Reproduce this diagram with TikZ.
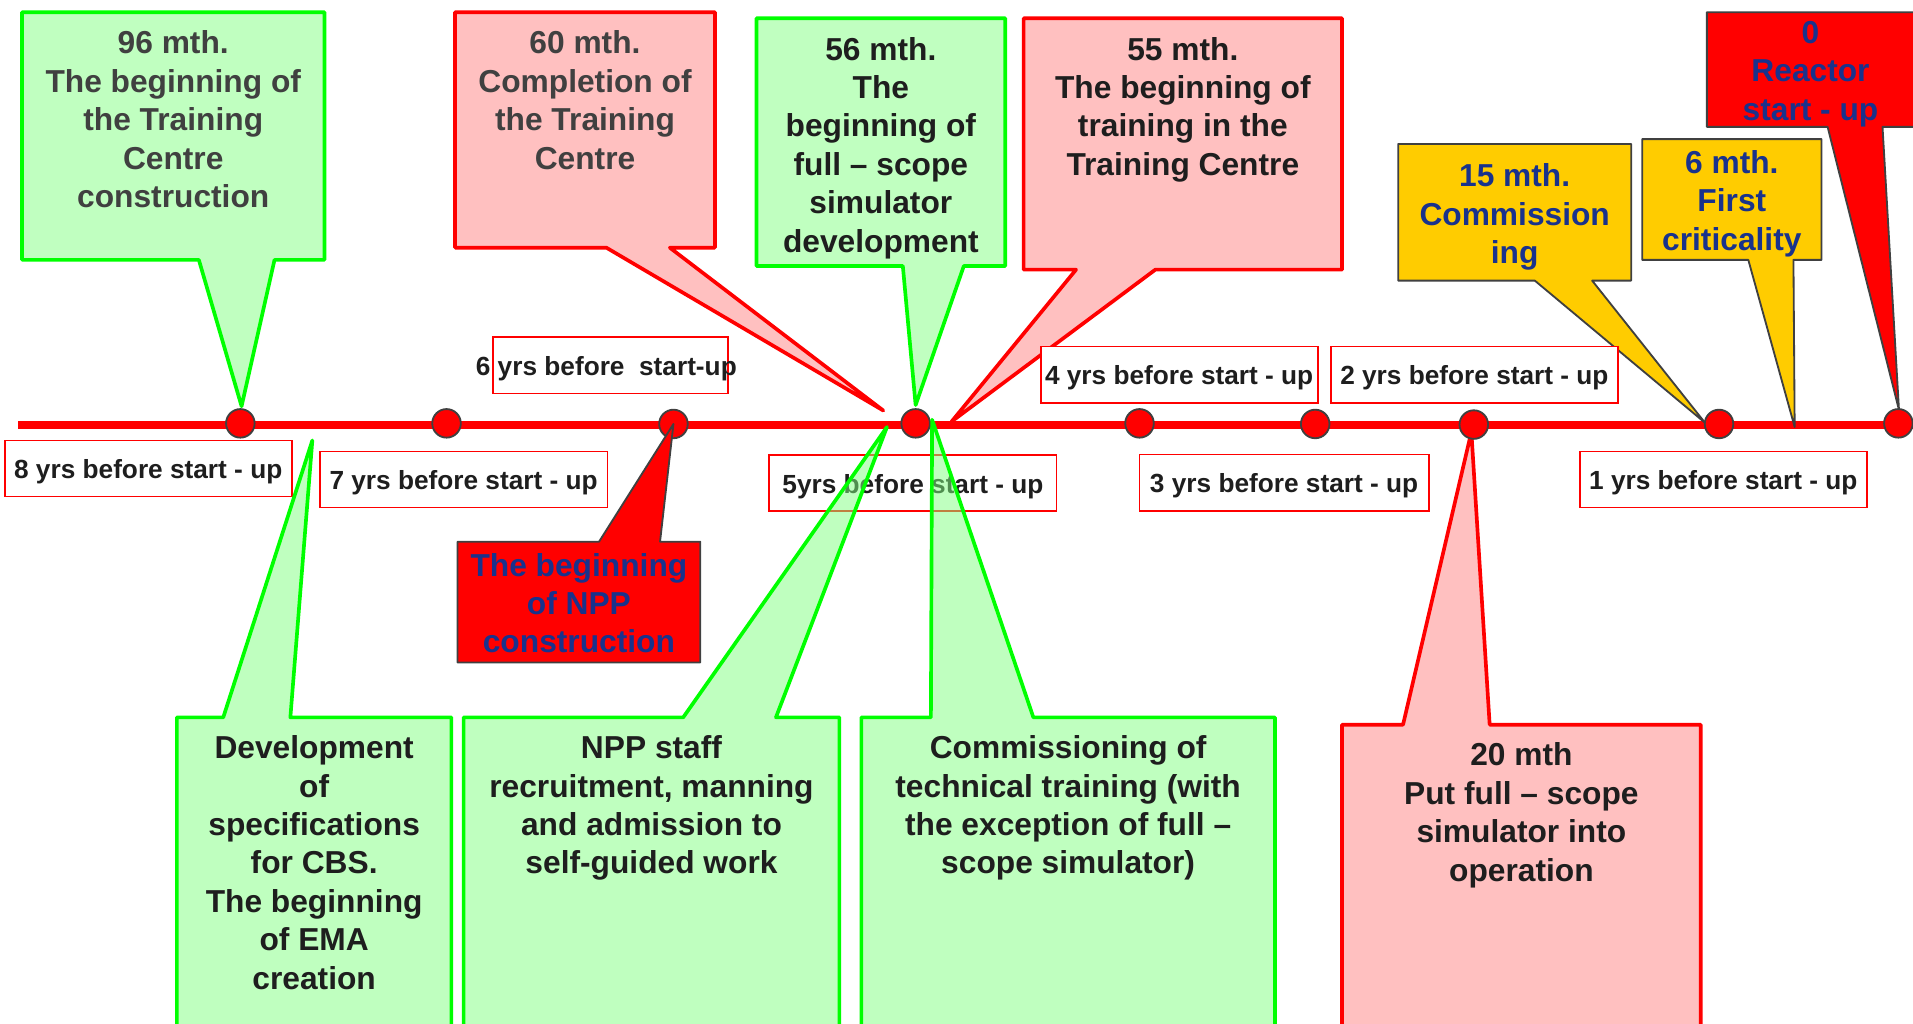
\documentclass[tikz,border=0pt]{standalone}
\usepackage{fontspec}
\setmainfont{Liberation Sans}
\definecolor{cgreen}{RGB}{0,255,0}
\definecolor{lgreen}{RGB}{192,255,192}
\definecolor{mgreen}{RGB}{129,255,129}
\definecolor{lpink}{RGB}{255,192,192}
\definecolor{cyellow}{RGB}{255,204,0}
\definecolor{dgray}{RGB}{64,64,64}
\definecolor{tgray}{RGB}{64,64,64}
\definecolor{tdark}{RGB}{30,30,30}
\definecolor{tblue}{RGB}{25,50,140}
\newcommand{\firstl}{\rule{0pt}{26pt}}
\tikzset{
  greencall/.style={draw=cgreen, line width=3pt, fill=lgreen, line join=round},
  greencallt/.style={draw=cgreen, line width=3pt, fill=mgreen, fill opacity=0.5, line join=round},
  pinkcall/.style={draw=red, line width=3pt, fill=lpink, line join=round},
  yellowcall/.style={draw=dgray, line width=1.5pt, fill=cyellow, line join=round},
  redcall/.style={draw=dgray, line width=1.5pt, fill=red, line join=round},
  tldot/.style={circle, minimum size=23.4pt, inner sep=0pt, fill=red, draw=dgray, line width=1.5pt},
  lbox/.style={draw=red, line width=1.5pt, fill=white, minimum height=46pt, inner sep=0pt,
    text height=17pt, text depth=0pt, text=tdark, font=\bfseries\fontsize{21.5}{26}\selectfont},
  ltext/.style={inner sep=0pt, text height=17pt, text depth=0pt, text=tdark,
    font=\bfseries\fontsize{21.5}{26}\selectfont},
  ctext/.style={align=center, inner sep=0pt, anchor=north,
    font=\bfseries\fontsize{26}{31.5}\selectfont}
}
\begin{document}
\begin{tikzpicture}[x=1pt,y=-1pt]
\useasboundingbox (0,0) rectangle (1568,839);
\fill[white] (0,0) rectangle (1568,839);
\clip (0,0) rectangle (1568,839);

% coordinates
\coordinate (tlA) at (15,348.5);
\coordinate (tlB) at (1580,348.5);
\coordinate (p1) at (197,347);
\coordinate (p2) at (366,347);
\coordinate (p3) at (552,347.5);
\coordinate (p4) at (750.5,347);
\coordinate (p5) at (934,347);
\coordinate (p6) at (1078,347.5);
\coordinate (p7) at (1208,348);
\coordinate (p8) at (1409,347.5);
\coordinate (p9) at (1556,347);

\coordinate (tip96) at (198,333);
\coordinate (tip60) at (724,336.5);
\coordinate (tip56) at (750.5,332);
\coordinate (tip55) at (780,345.5);
\coordinate (tip15) at (1397.5,346.5);
\coordinate (tip6) at (1471,350);
\coordinate (tip0) at (1556.5,336);
\coordinate (tipNPP) at (552,347.5);
\coordinate (tipCBS) at (256,361);
\coordinate (tipStaff) at (727,350);
\coordinate (tipComm) at (764,344);
\coordinate (tip20) at (1206,354);

% timeline
\draw[red, line width=6.5pt] (tlA) -- (tlB);

% top callouts
\draw[greencall] (18,10) -- (266,10) -- (266,213) -- (225,213) -- (tip96) -- (163,213) -- (18,213) -- cycle;
\draw[pinkcall] (373,10) -- (586,10) -- (586,203) -- (549,203) -- (tip60) -- (497,203) -- (373,203) -- cycle;
\draw[greencall] (620,15) -- (824,15) -- (824,218) -- (790,218) -- (tip56) -- (740,218) -- (620,218) -- cycle;
\draw[pinkcall] (839,15) -- (1100,15) -- (1100,221) -- (947,221) -- (tip55) -- (882,221) -- (839,221) -- cycle;
\draw[yellowcall] (1146,118) -- (1337,118) -- (1337,230) -- (1305,230) -- (tip15) -- (1258,230) -- (1146,230) -- cycle;
\draw[yellowcall] (1346,114) -- (1493,114) -- (1493,213) -- (1470,213) -- (tip6) -- (1433,213) -- (1346,213) -- cycle;
\draw[redcall] (1399,10) -- (1580,10) -- (1580,104) -- (1543,104) -- (tip0) -- (1498,104) -- (1399,104) -- cycle;

% pink bottom callout (under the dots)
\draw[pinkcall] (1100,594) -- (1150,594) -- (tip20) -- (1221,594) -- (1394,594) -- (1394,860) -- (1100,860) -- cycle;

% dots
\foreach \i in {1,...,9} { \node[tldot] (d\i) at (p\i) {}; }

% year labels
\node[lbox, minimum width=235pt] (l8) at (121.5,384) {8 yrs before start - up};
\node[lbox, minimum width=236pt] (l7) at (380,393) {7 yrs before start - up};
\node[lbox, minimum width=193pt] (l6) at (500.5,299.5) {};
\node[ltext] (l6t) at (497,299.5) {6 yrs before\ \ start-up};
\node[lbox, minimum width=235.4pt] (l5) at (748.3,396) {5yrs before start - up};
\node[lbox, minimum width=227pt] (l4) at (966.5,307) {4 yrs before start - up};
\node[lbox, minimum width=237pt] (l3) at (1052.5,395.5) {3 yrs before start - up};
\node[lbox, minimum width=235pt] (l2) at (1208.5,307) {2 yrs before start - up};
\node[lbox, minimum width=235pt] (l1) at (1412.5,393) {1 yrs before start - up};

% bottom callouts
\draw[greencallt] (145,588) -- (183,588) -- (tipCBS) -- (238,588) -- (370,588) -- (370,860) -- (145,860) -- cycle;
\draw[greencallt] (380,588) -- (560,588) -- (tipStaff) -- (636,588) -- (688,588) -- (688,860) -- (380,860) -- cycle;
\draw[greencallt] (706,588) -- (763,588) -- (tipComm) -- (847,588) -- (1045,588) -- (1045,860) -- (706,860) -- cycle;
\draw[redcall] (375,444) -- (491,444) -- (tipNPP) -- (541,444) -- (574,444) -- (574,543) -- (375,543) -- cycle;

% texts
\node[ctext, text=tgray] (t96) at (142,18) {\firstl 96 mth.\\The beginning of\\the Training\\Centre\\construction};
\node[ctext, text=tgray] (t60) at (479.5,18) {\firstl 60 mth.\\Completion of\\the Training\\Centre};
\node[ctext, text=tdark] (t56) at (722,23) {\firstl 56 mth.\\The\\beginning of\\full – scope\\simulator\\development};
\node[ctext, text=tdark] (t55) at (969.5,23) {\firstl 55 mth.\\The beginning of\\training in the\\Training Centre};
\node[ctext, text=tblue] (t15) at (1241.5,127) {\firstl 15 mth.\\Commission\\ing};
\node[ctext, text=tblue] (t6) at (1419.5,116) {\firstl 6 mth.\\First\\criticality};
\node[ctext, text=tblue] (t0) at (1484,9.5) {\firstl 0\\Reactor\\start - up};
\node[ctext, text=tblue] (tNPP) at (474.5,446) {\firstl The beginning\\of NPP\\construction};
\node[ctext, text=tdark] (tCBS) at (257.5,595.6) {\firstl Development\\of\\specifications\\for CBS.\\The beginning\\of EMA\\creation};
\node[ctext, text=tdark] (tStaff) at (534,595.6) {\firstl NPP staff\\recruitment, manning\\and admission to\\self-guided work};
\node[ctext, text=tdark] (tComm) at (875.5,595.6) {\firstl Commissioning of\\technical training (with\\the exception of full –\\scope simulator)};
\node[ctext, text=tdark] (t20) at (1247,601.6) {\firstl 20 mth\\Put full – scope\\simulator into\\operation};
\end{tikzpicture}
\end{document}
